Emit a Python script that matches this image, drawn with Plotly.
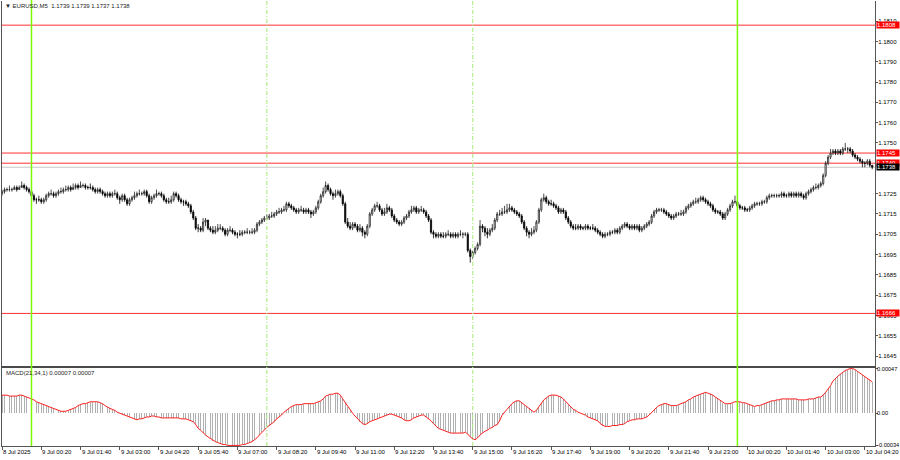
import pandas as pd
import plotly.graph_objects as go

# ---------------- data ----------------
opens = [
1.1725,1.1726,1.1727,1.1727,1.1727,1.1727,1.1728,1.1727,1.1728,1.1729,1.1728,1.1727,
1.1726,1.1724,1.1722,1.1722,1.1722,1.1721,1.1722,1.1724,1.1725,1.1725,1.1724,1.1725,
1.1726,1.1726,1.1727,1.1727,1.1728,1.1727,1.1728,1.1729,1.1728,1.1729,1.1729,1.1728,
1.1728,1.1728,1.1727,1.1726,1.1727,1.1726,1.1725,1.1724,1.1725,1.1724,1.1725,1.1725,
1.1723,1.1722,1.1724,1.1722,1.1720,1.1722,1.1723,1.1724,1.1725,1.1725,1.1725,1.1726,
1.1724,1.1721,1.1723,1.1724,1.1725,1.1725,1.1724,1.1722,1.1721,1.1721,1.1722,1.1725,
1.1724,1.1722,1.1721,1.1721,1.1720,1.1719,1.1716,1.1713,1.1708,1.1708,1.1707,1.1711,
1.1712,1.1708,1.1707,1.1706,1.1707,1.1708,1.1708,1.1707,1.1705,1.1707,1.1707,1.1706,
1.1705,1.1705,1.1705,1.1706,1.1706,1.1706,1.1706,1.1706,1.1707,1.1710,1.1711,1.1712,
1.1713,1.1713,1.1714,1.1714,1.1715,1.1716,1.1716,1.1717,1.1717,1.1720,1.1719,1.1718,
1.1717,1.1716,1.1717,1.1717,1.1716,1.1717,1.1716,1.1715,1.1716,1.1718,1.1721,1.1724,
1.1726,1.1729,1.1727,1.1725,1.1724,1.1725,1.1726,1.1724,1.1720,1.1711,1.1709,1.1708,
1.1710,1.1709,1.1707,1.1708,1.1706,1.1705,1.1709,1.1715,1.1717,1.1719,1.1719,1.1717,
1.1715,1.1716,1.1718,1.1717,1.1714,1.1712,1.1711,1.1710,1.1711,1.1713,1.1714,1.1716,
1.1717,1.1718,1.1716,1.1717,1.1717,1.1716,1.1714,1.1712,1.1706,1.1705,1.1704,1.1705,
1.1704,1.1704,1.1705,1.1705,1.1704,1.1705,1.1704,1.1705,1.1705,1.1705,1.1705,1.1697,
1.1694,1.1696,1.1698,1.1700,1.1709,1.1708,1.1706,1.1705,1.1707,1.1708,1.1712,1.1715,
1.1715,1.1716,1.1716,1.1717,1.1718,1.1717,1.1716,1.1715,1.1714,1.1711,1.1708,1.1706,
1.1705,1.1706,1.1707,1.1711,1.1717,1.1722,1.1723,1.1721,1.1720,1.1720,1.1719,1.1718,
1.1716,1.1717,1.1716,1.1713,1.1711,1.1709,1.1708,1.1708,1.1709,1.1708,1.1708,1.1709,
1.1708,1.1708,1.1708,1.1707,1.1706,1.1705,1.1704,1.1705,1.1705,1.1706,1.1706,1.1707,
1.1706,1.1708,1.1709,1.1710,1.1709,1.1708,1.1709,1.1708,1.1709,1.1707,1.1708,1.1709,
1.1710,1.1711,1.1714,1.1716,1.1717,1.1717,1.1717,1.1716,1.1715,1.1714,1.1713,1.1714,
1.1715,1.1715,1.1715,1.1716,1.1718,1.1719,1.1720,1.1721,1.1721,1.1722,1.1723,1.1722,
1.1721,1.1720,1.1719,1.1717,1.1716,1.1716,1.1715,1.1713,1.1715,1.1717,1.1719,1.1721,
1.1721,1.1719,1.1718,1.1718,1.1717,1.1717,1.1718,1.1719,1.1720,1.1720,1.1720,1.1721,
1.1721,1.1723,1.1724,1.1724,1.1724,1.1724,1.1724,1.1725,1.1724,1.1724,1.1725,1.1724,
1.1725,1.1724,1.1725,1.1724,1.1723,1.1725,1.1726,1.1727,1.1728,1.1728,1.1729,1.1730,
1.1734,1.1740,1.1743,1.1745,1.1746,1.1745,1.1746,1.1745,1.1747,1.1747,1.1747,1.1746,
1.1744,1.1743,1.1742,1.1741,1.1740,1.1740,1.1741,1.1739]

highs = [
1.1727,1.1728,1.1728,1.1729,1.1728,1.1729,1.1729,1.1729,1.1731,1.1730,1.1729,1.1728,
1.1727,1.1725,1.1723,1.1724,1.1723,1.1723,1.1725,1.1726,1.1727,1.1726,1.1726,1.1727,
1.1728,1.1728,1.1729,1.1729,1.1729,1.1730,1.1730,1.1730,1.1731,1.1730,1.1730,1.1729,
1.1730,1.1729,1.1728,1.1728,1.1728,1.1727,1.1726,1.1726,1.1726,1.1726,1.1727,1.1726,
1.1724,1.1725,1.1725,1.1723,1.1723,1.1724,1.1726,1.1726,1.1727,1.1726,1.1727,1.1727,
1.1725,1.1724,1.1725,1.1727,1.1726,1.1726,1.1725,1.1723,1.1723,1.1724,1.1726,1.1726,
1.1725,1.1723,1.1722,1.1722,1.1721,1.1720,1.1717,1.1714,1.1710,1.1709,1.1713,1.1713,
1.1712,1.1709,1.1709,1.1709,1.1710,1.1710,1.1709,1.1708,1.1708,1.1709,1.1708,1.1707,
1.1706,1.1707,1.1707,1.1707,1.1708,1.1707,1.1708,1.1708,1.1711,1.1712,1.1713,1.1714,
1.1715,1.1715,1.1716,1.1716,1.1717,1.1718,1.1718,1.1719,1.1721,1.1721,1.1720,1.1719,
1.1718,1.1718,1.1719,1.1718,1.1718,1.1718,1.1717,1.1717,1.1719,1.1722,1.1725,1.1728,
1.1731,1.1730,1.1728,1.1726,1.1727,1.1727,1.1727,1.1725,1.1721,1.1713,1.1711,1.1711,
1.1711,1.1710,1.1710,1.1709,1.1707,1.1710,1.1716,1.1718,1.1720,1.1721,1.1720,1.1718,
1.1718,1.1720,1.1719,1.1718,1.1715,1.1713,1.1712,1.1712,1.1714,1.1715,1.1717,1.1719,
1.1719,1.1719,1.1718,1.1719,1.1718,1.1717,1.1715,1.1713,1.1707,1.1706,1.1706,1.1706,
1.1706,1.1706,1.1707,1.1706,1.1706,1.1706,1.1706,1.1707,1.1706,1.1706,1.1706,1.1698,
1.1697,1.1699,1.1701,1.1712,1.1710,1.1709,1.1708,1.1708,1.1710,1.1713,1.1716,1.1717,
1.1718,1.1719,1.1720,1.1720,1.1719,1.1718,1.1717,1.1716,1.1715,1.1712,1.1709,1.1707,
1.1708,1.1709,1.1712,1.1718,1.1723,1.1725,1.1724,1.1722,1.1722,1.1721,1.1720,1.1719,
1.1718,1.1718,1.1717,1.1714,1.1712,1.1710,1.1710,1.1710,1.1710,1.1709,1.1710,1.1710,
1.1709,1.1710,1.1709,1.1708,1.1707,1.1706,1.1706,1.1706,1.1707,1.1707,1.1708,1.1708,
1.1709,1.1710,1.1711,1.1711,1.1710,1.1710,1.1710,1.1710,1.1710,1.1709,1.1710,1.1711,
1.1712,1.1715,1.1717,1.1718,1.1718,1.1718,1.1718,1.1717,1.1716,1.1715,1.1715,1.1716,
1.1716,1.1717,1.1717,1.1719,1.1720,1.1721,1.1722,1.1723,1.1723,1.1724,1.1724,1.1723,
1.1722,1.1721,1.1720,1.1718,1.1717,1.1717,1.1716,1.1716,1.1718,1.1720,1.1722,1.1724,
1.1722,1.1720,1.1719,1.1719,1.1718,1.1719,1.1720,1.1721,1.1721,1.1721,1.1722,1.1722,
1.1724,1.1725,1.1725,1.1725,1.1725,1.1725,1.1726,1.1726,1.1725,1.1726,1.1726,1.1726,
1.1726,1.1726,1.1726,1.1725,1.1726,1.1727,1.1728,1.1729,1.1730,1.1730,1.1731,1.1735,
1.1741,1.1744,1.1747,1.1747,1.1747,1.1747,1.1747,1.1748,1.1750,1.1748,1.1748,1.1747,
1.1745,1.1744,1.1743,1.1742,1.1741,1.1742,1.1742,1.1739]

lows = [
1.1724,1.1725,1.1726,1.1726,1.1726,1.1727,1.1726,1.1727,1.1728,1.1727,1.1726,1.1725,
1.1723,1.1721,1.1720,1.1721,1.1720,1.1720,1.1721,1.1723,1.1724,1.1723,1.1723,1.1724,
1.1725,1.1725,1.1726,1.1726,1.1726,1.1727,1.1727,1.1727,1.1728,1.1728,1.1727,1.1727,
1.1727,1.1726,1.1725,1.1725,1.1725,1.1724,1.1723,1.1723,1.1723,1.1723,1.1724,1.1722,
1.1720,1.1721,1.1721,1.1719,1.1719,1.1721,1.1722,1.1723,1.1724,1.1724,1.1724,1.1723,
1.1720,1.1720,1.1722,1.1723,1.1724,1.1723,1.1721,1.1720,1.1720,1.1720,1.1721,1.1723,
1.1721,1.1720,1.1719,1.1719,1.1718,1.1715,1.1712,1.1707,1.1706,1.1706,1.1706,1.1709,
1.1707,1.1706,1.1705,1.1705,1.1706,1.1707,1.1706,1.1704,1.1704,1.1706,1.1705,1.1704,
1.1703,1.1704,1.1704,1.1705,1.1705,1.1705,1.1705,1.1705,1.1706,1.1709,1.1710,1.1711,
1.1712,1.1712,1.1713,1.1713,1.1714,1.1715,1.1715,1.1716,1.1716,1.1718,1.1717,1.1716,
1.1715,1.1715,1.1716,1.1715,1.1715,1.1715,1.1713,1.1714,1.1715,1.1717,1.1720,1.1723,
1.1725,1.1726,1.1724,1.1722,1.1723,1.1724,1.1723,1.1719,1.1710,1.1708,1.1707,1.1707,
1.1708,1.1706,1.1706,1.1704,1.1703,1.1704,1.1708,1.1714,1.1716,1.1718,1.1716,1.1714,
1.1714,1.1715,1.1716,1.1713,1.1711,1.1710,1.1709,1.1709,1.1710,1.1712,1.1713,1.1715,
1.1716,1.1715,1.1715,1.1716,1.1715,1.1713,1.1711,1.1705,1.1703,1.1703,1.1703,1.1703,
1.1703,1.1703,1.1704,1.1703,1.1703,1.1703,1.1703,1.1704,1.1703,1.1704,1.1696,1.1691,
1.1693,1.1695,1.1697,1.1699,1.1706,1.1704,1.1703,1.1704,1.1706,1.1707,1.1711,1.1714,
1.1714,1.1715,1.1715,1.1716,1.1716,1.1715,1.1714,1.1713,1.1710,1.1707,1.1704,1.1703,
1.1704,1.1705,1.1706,1.1710,1.1716,1.1721,1.1720,1.1719,1.1719,1.1718,1.1717,1.1715,
1.1715,1.1715,1.1712,1.1710,1.1708,1.1707,1.1707,1.1707,1.1707,1.1707,1.1707,1.1707,
1.1707,1.1707,1.1706,1.1705,1.1704,1.1703,1.1703,1.1704,1.1704,1.1705,1.1705,1.1705,
1.1705,1.1707,1.1708,1.1708,1.1707,1.1707,1.1707,1.1707,1.1706,1.1706,1.1707,1.1708,
1.1709,1.1710,1.1713,1.1715,1.1716,1.1716,1.1715,1.1714,1.1713,1.1712,1.1712,1.1713,
1.1714,1.1714,1.1714,1.1715,1.1717,1.1718,1.1719,1.1720,1.1720,1.1721,1.1721,1.1720,
1.1719,1.1718,1.1716,1.1715,1.1715,1.1714,1.1712,1.1712,1.1714,1.1716,1.1718,1.1720,
1.1718,1.1717,1.1717,1.1716,1.1716,1.1716,1.1717,1.1718,1.1719,1.1719,1.1719,1.1720,
1.1720,1.1722,1.1723,1.1723,1.1723,1.1723,1.1723,1.1723,1.1723,1.1723,1.1723,1.1723,
1.1723,1.1723,1.1723,1.1722,1.1722,1.1724,1.1725,1.1726,1.1727,1.1727,1.1728,1.1729,
1.1733,1.1739,1.1742,1.1744,1.1744,1.1744,1.1744,1.1744,1.1746,1.1745,1.1745,1.1743,
1.1742,1.1741,1.1740,1.1738,1.1738,1.1739,1.1738,1.1737]

closes = [
1.1726,1.1727,1.1727,1.1727,1.1727,1.1728,1.1727,1.1728,1.1729,1.1728,1.1727,1.1726,
1.1724,1.1722,1.1722,1.1722,1.1721,1.1722,1.1724,1.1725,1.1725,1.1724,1.1725,1.1726,
1.1726,1.1727,1.1727,1.1728,1.1727,1.1728,1.1729,1.1728,1.1729,1.1729,1.1728,1.1728,
1.1728,1.1727,1.1726,1.1727,1.1726,1.1725,1.1724,1.1725,1.1724,1.1725,1.1725,1.1723,
1.1722,1.1724,1.1722,1.1720,1.1722,1.1723,1.1724,1.1725,1.1725,1.1725,1.1726,1.1724,
1.1721,1.1723,1.1724,1.1725,1.1725,1.1724,1.1722,1.1721,1.1721,1.1722,1.1725,1.1724,
1.1722,1.1721,1.1721,1.1720,1.1719,1.1716,1.1713,1.1708,1.1708,1.1707,1.1711,1.1712,
1.1708,1.1707,1.1706,1.1707,1.1708,1.1708,1.1707,1.1705,1.1707,1.1707,1.1706,1.1705,
1.1705,1.1705,1.1706,1.1706,1.1706,1.1706,1.1706,1.1707,1.1710,1.1711,1.1712,1.1713,
1.1713,1.1714,1.1714,1.1715,1.1716,1.1716,1.1717,1.1717,1.1720,1.1719,1.1718,1.1717,
1.1716,1.1717,1.1717,1.1716,1.1717,1.1716,1.1715,1.1716,1.1718,1.1721,1.1724,1.1726,
1.1729,1.1727,1.1725,1.1724,1.1725,1.1726,1.1724,1.1720,1.1711,1.1709,1.1708,1.1710,
1.1709,1.1707,1.1708,1.1706,1.1705,1.1709,1.1715,1.1717,1.1719,1.1719,1.1717,1.1715,
1.1716,1.1718,1.1717,1.1714,1.1712,1.1711,1.1710,1.1711,1.1713,1.1714,1.1716,1.1717,
1.1718,1.1716,1.1717,1.1717,1.1716,1.1714,1.1712,1.1706,1.1705,1.1704,1.1705,1.1704,
1.1704,1.1705,1.1705,1.1704,1.1705,1.1704,1.1705,1.1705,1.1705,1.1705,1.1697,1.1694,
1.1696,1.1698,1.1700,1.1709,1.1708,1.1706,1.1705,1.1707,1.1708,1.1712,1.1715,1.1715,
1.1716,1.1716,1.1717,1.1718,1.1717,1.1716,1.1715,1.1714,1.1711,1.1708,1.1706,1.1705,
1.1706,1.1707,1.1711,1.1717,1.1722,1.1723,1.1721,1.1720,1.1720,1.1719,1.1718,1.1716,
1.1717,1.1716,1.1713,1.1711,1.1709,1.1708,1.1708,1.1709,1.1708,1.1708,1.1709,1.1708,
1.1708,1.1708,1.1707,1.1706,1.1705,1.1704,1.1705,1.1705,1.1706,1.1706,1.1707,1.1706,
1.1708,1.1709,1.1710,1.1709,1.1708,1.1709,1.1708,1.1709,1.1707,1.1708,1.1709,1.1710,
1.1711,1.1714,1.1716,1.1717,1.1717,1.1717,1.1716,1.1715,1.1714,1.1713,1.1714,1.1715,
1.1715,1.1715,1.1716,1.1718,1.1719,1.1720,1.1721,1.1721,1.1722,1.1723,1.1722,1.1721,
1.1720,1.1719,1.1717,1.1716,1.1716,1.1715,1.1713,1.1715,1.1717,1.1719,1.1721,1.1721,
1.1719,1.1718,1.1718,1.1717,1.1717,1.1718,1.1719,1.1720,1.1720,1.1720,1.1721,1.1721,
1.1723,1.1724,1.1724,1.1724,1.1724,1.1724,1.1725,1.1724,1.1724,1.1725,1.1724,1.1725,
1.1724,1.1725,1.1724,1.1723,1.1725,1.1726,1.1727,1.1728,1.1728,1.1729,1.1730,1.1734,
1.1740,1.1743,1.1745,1.1746,1.1745,1.1746,1.1745,1.1747,1.1747,1.1747,1.1746,1.1744,
1.1743,1.1742,1.1741,1.1740,1.1740,1.1741,1.1739,1.1738]

# MACD(21,34,1) main histogram; signal with period 1 coincides with it
macd_main = [
0.00019,0.00019,0.00019,0.00018,0.00018,0.00018,0.00018,0.00019,0.00019,0.00018,0.00017,0.00016,
0.00015,0.00014,0.00012,0.00011,0.00010,0.00009,0.00008,0.00007,0.00006,0.00005,0.00004,0.00003,
0.00002,0.00002,0.00002,0.00003,0.00004,0.00005,0.00006,0.00008,0.00009,0.00010,0.00010,0.00011,
0.00012,0.00012,0.00012,0.00012,0.00011,0.00010,0.00008,0.00006,0.00005,0.00004,0.00003,0.00001,
0.00000,-0.00001,-0.00002,-0.00003,-0.00004,-0.00005,-0.00006,-0.00007,-0.00006,-0.00006,-0.00005,-0.00004,
-0.00004,-0.00003,-0.00003,-0.00004,-0.00004,-0.00005,-0.00005,-0.00005,-0.00005,-0.00005,-0.00005,-0.00005,
-0.00005,-0.00006,-0.00006,-0.00006,-0.00007,-0.00008,-0.00009,-0.00012,-0.00016,-0.00018,-0.00021,-0.00023,
-0.00025,-0.00027,-0.00029,-0.00030,-0.00031,-0.00032,-0.00033,-0.00033,-0.00034,-0.00034,-0.00034,-0.00034,
-0.00034,-0.00034,-0.00033,-0.00033,-0.00032,-0.00031,-0.00030,-0.00028,-0.00026,-0.00023,-0.00020,-0.00017,
-0.00015,-0.00013,-0.00011,-0.00009,-0.00006,-0.00004,-0.00002,0.00001,0.00003,0.00005,0.00007,0.00008,
0.00009,0.00009,0.00009,0.00010,0.00010,0.00010,0.00010,0.00010,0.00011,0.00012,0.00013,0.00015,
0.00018,0.00019,0.00020,0.00020,0.00021,0.00021,0.00019,0.00015,0.00011,0.00007,0.00003,0.00000,
-0.00003,-0.00006,-0.00009,-0.00011,-0.00012,-0.00011,-0.00009,-0.00008,-0.00007,-0.00006,-0.00005,-0.00004,
-0.00003,-0.00002,-0.00001,-0.00001,-0.00002,-0.00003,-0.00004,-0.00005,-0.00007,-0.00008,-0.00008,-0.00007,
-0.00005,-0.00004,-0.00003,-0.00002,-0.00002,-0.00004,-0.00006,-0.00008,-0.00011,-0.00014,-0.00016,-0.00017,
-0.00018,-0.00019,-0.00020,-0.00021,-0.00021,-0.00021,-0.00021,-0.00021,-0.00021,-0.00020,-0.00022,-0.00025,
-0.00027,-0.00028,-0.00026,-0.00023,-0.00021,-0.00019,-0.00018,-0.00016,-0.00015,-0.00013,-0.00012,-0.00008,
-0.00002,0.00001,0.00005,0.00008,0.00010,0.00012,0.00013,0.00013,0.00011,0.00009,0.00007,0.00005,
0.00003,0.00001,0.00003,0.00007,0.00011,0.00014,0.00016,0.00018,0.00019,0.00019,0.00019,0.00018,
0.00017,0.00015,0.00012,0.00009,0.00006,0.00004,0.00003,0.00001,0.00000,-0.00001,-0.00002,-0.00004,
-0.00005,-0.00006,-0.00007,-0.00008,-0.00011,-0.00013,-0.00014,-0.00014,-0.00014,-0.00013,-0.00013,-0.00013,
-0.00012,-0.00012,-0.00011,-0.00009,-0.00008,-0.00007,-0.00007,-0.00006,-0.00006,-0.00006,-0.00005,-0.00004,
-0.00002,0.00001,0.00004,0.00006,0.00008,0.00009,0.00010,0.00010,0.00009,0.00008,0.00008,0.00008,
0.00009,0.00010,0.00011,0.00012,0.00014,0.00015,0.00017,0.00018,0.00019,0.00020,0.00021,0.00022,
0.00021,0.00020,0.00019,0.00017,0.00015,0.00013,0.00011,0.00010,0.00010,0.00010,0.00011,0.00012,
0.00012,0.00012,0.00011,0.00011,0.00010,0.00009,0.00008,0.00007,0.00008,0.00008,0.00009,0.00010,
0.00011,0.00012,0.00013,0.00013,0.00014,0.00014,0.00015,0.00015,0.00015,0.00015,0.00015,0.00015,
0.00015,0.00014,0.00014,0.00014,0.00014,0.00015,0.00015,0.00015,0.00016,0.00017,0.00017,0.00019,
0.00022,0.00025,0.00029,0.00034,0.00037,0.00039,0.00041,0.00043,0.00045,0.00046,0.00047,0.00047,
0.00046,0.00044,0.00042,0.00040,0.00038,0.00036,0.00035,0.00033]
macd_signal = macd_main  # signal SMA(1) of the main line

first_bar = "2025-07-08 23:00"
times = pd.date_range(first_bar, periods=len(closes), freq="5min")

view_range = ["2025-07-08 22:59:50", "2025-07-10 04:40:40"]
price_range = [1.16401, 1.18199]
macd_range = [-0.000346, 0.000476]

price_ticks = [1.1810, 1.1800, 1.1790, 1.1780, 1.1770, 1.1760, 1.1750,
               1.1725, 1.1715, 1.1705, 1.1695, 1.1685, 1.1675, 1.1665, 1.1655, 1.1645]
macd_ticks = [0.00047, 0.0, -0.00034]
macd_tick_text = ["0.00047", "0.00", "-0.00034"]

time_ticks = ["2025-07-08 23:00", "2025-07-09 00:20", "2025-07-09 01:40", "2025-07-09 03:00",
              "2025-07-09 04:20", "2025-07-09 05:40", "2025-07-09 07:00", "2025-07-09 08:20",
              "2025-07-09 09:40", "2025-07-09 11:00", "2025-07-09 12:20", "2025-07-09 13:40",
              "2025-07-09 15:00", "2025-07-09 16:20", "2025-07-09 17:40", "2025-07-09 19:00",
              "2025-07-09 20:20", "2025-07-09 21:40", "2025-07-09 23:00", "2025-07-10 00:20",
              "2025-07-10 01:40", "2025-07-10 03:00", "2025-07-10 04:20"]
time_text = ["8 Jul 2025", "9 Jul 00:20", "9 Jul 01:40", "9 Jul 03:00", "9 Jul 04:20",
             "9 Jul 05:40", "9 Jul 07:00", "9 Jul 08:20", "9 Jul 09:40", "9 Jul 11:00",
             "9 Jul 12:20", "9 Jul 13:40", "9 Jul 15:00", "9 Jul 16:20", "9 Jul 17:40",
             "9 Jul 19:00", "9 Jul 20:20", "9 Jul 21:40", "9 Jul 23:00", "10 Jul 00:20",
             "10 Jul 01:40", "10 Jul 03:00", "10 Jul 04:20"]

day_lines = ["2025-07-09 00:00", "2025-07-10 00:00"]
session_lines = ["2025-07-09 08:00", "2025-07-09 15:00"]
red_levels = [1.1808, 1.1745, 1.1740, 1.1666]
bid_price = 1.1738

title_text = "▼ EURUSD,M5  1.1739 1.1739 1.1737 1.1738"
macd_text = "MACD(21,34,1) 0.00007 0.00007"

# ---------------- layout constants ----------------
FONT = "Liberation Sans, Arial, sans-serif"
FS = 6
X_DOM = [2 / 900, 875 / 900]
Y_MAIN = [1 - 366 / 460, 1 - 1 / 460]
Y_MACD = [1 - 446 / 460, 1 - 368 / 460]
AXC = "#555555"

fig = go.Figure()
fig.add_trace(go.Candlestick(
    x=times, open=opens, high=highs, low=lows, close=closes,
    xaxis="x", yaxis="y",
    increasing=dict(line=dict(color="#202020", width=0.8), fillcolor="#ffffff"),
    decreasing=dict(line=dict(color="#000000", width=0.8), fillcolor="#000000"),
    whiskerwidth=0, showlegend=False, hoverinfo="skip"))
fig.add_trace(go.Bar(
    x=times, y=macd_main, xaxis="x2", yaxis="y2",
    marker=dict(color="#b0b0b0", line=dict(width=0)),
    width=110000, showlegend=False, hoverinfo="skip"))
fig.add_trace(go.Scatter(
    x=times, y=macd_signal, xaxis="x2", yaxis="y2", mode="lines",
    line=dict(color="#ff2020", width=1), showlegend=False, hoverinfo="skip"))

shapes = []
for t in day_lines:
    shapes.append(dict(type="line", xref="x", yref="paper", x0=t, x1=t,
                       y0=Y_MACD[0], y1=1, layer="above",
                       line=dict(color="#7CFC00", width=1.5)))
for t in session_lines:
    shapes.append(dict(type="line", xref="x", yref="paper", x0=t, x1=t,
                       y0=Y_MACD[0], y1=1, layer="above",
                       line=dict(color="#b4ee8c", width=1.2, dash="4px,2px,1px,2px")))
shapes.append(dict(type="line", xref="paper", yref="y", x0=X_DOM[0], x1=X_DOM[1],
                   y0=bid_price, y1=bid_price, layer="below",
                   line=dict(color="#c8c8c8", width=1)))
for lv in red_levels:
    shapes.append(dict(type="line", xref="paper", yref="y", x0=X_DOM[0], x1=X_DOM[1],
                       y0=lv, y1=lv, layer="below",
                       line=dict(color="#ff3030", width=1)))

annotations = []
for t, txt in zip(time_ticks, time_text):
    annotations.append(dict(x=t, xref="x2", y=Y_MACD[0] - 1 / 460, yref="paper",
                            text=txt, showarrow=False, xanchor="left", yanchor="top",
                            xshift=-1, font=dict(family=FONT, size=FS, color="black")))
for lv in red_levels:
    annotations.append(dict(x=876 / 900, xref="paper", y=lv, yref="y",
                            text=f"{lv:.4f}", showarrow=False, xanchor="left",
                            yanchor="middle", bgcolor="#ff0000", borderpad=0,
                            width=22, align="left",
                            font=dict(family=FONT, size=FS, color="white")))
annotations.append(dict(x=876 / 900, xref="paper", y=bid_price, yref="y",
                        text=f"{bid_price:.4f}", showarrow=False, xanchor="left",
                        yanchor="middle", bgcolor="#000000", borderpad=0,
                        width=22, align="left",
                        font=dict(family=FONT, size=FS, color="white")))
annotations.append(dict(x=3 / 900, xref="paper", y=1 - 6 / 460, yref="paper",
                        text=title_text, showarrow=False, xanchor="left", yanchor="middle",
                        font=dict(family=FONT, size=FS, color="#222222")))
annotations.append(dict(x=4 / 900, xref="paper", y=1 - 373 / 460, yref="paper",
                        text=macd_text, showarrow=False, xanchor="left", yanchor="middle",
                        font=dict(family=FONT, size=FS, color="#222222")))

fig.update_layout(
    width=900, height=460, margin=dict(l=0, r=0, t=0, b=0, autoexpand=False),
    paper_bgcolor="white", plot_bgcolor="white", showlegend=False,
    bargap=0,
    xaxis=dict(domain=X_DOM, anchor="y", range=view_range, type="date", automargin=False,
               rangeslider=dict(visible=False), showticklabels=False, ticks="",
               showgrid=False, zeroline=False, showline=True, linecolor="#4a4a4a",
               linewidth=2),
    yaxis=dict(domain=Y_MAIN, anchor="x", range=price_range, side="right", automargin=False,
               tickvals=price_ticks, ticktext=[f"{v:.4f}" for v in price_ticks],
               ticks="outside", ticklen=2, tickcolor=AXC, showgrid=False, zeroline=False,
               showline=True, mirror=True, linecolor=AXC, linewidth=1,
               ticklabelstandoff=-1,
               tickfont=dict(family=FONT, size=FS, color="black")),
    xaxis2=dict(domain=X_DOM, anchor="y2", matches="x", type="date", automargin=False,
                tickvals=time_ticks, ticks="outside", ticklen=3, tickcolor=AXC,
                showticklabels=False, showgrid=False, zeroline=False,
                showline=True, linecolor=AXC, linewidth=1),
    yaxis2=dict(domain=Y_MACD, anchor="x2", range=macd_range, side="right", automargin=False,
                tickvals=macd_ticks, ticktext=macd_tick_text,
                ticks="outside", ticklen=2, tickcolor=AXC, showgrid=False, zeroline=False,
                showline=True, mirror=True, linecolor=AXC, linewidth=1,
                ticklabelstandoff=-2,
                tickfont=dict(family=FONT, size=5.6, color="black")),
    shapes=shapes, annotations=annotations,
)

page_reset = ("document.documentElement.style.margin='0';"
              "document.body.style.margin='0';document.body.style.padding='0';"
              "document.body.style.overflow='hidden';")
fig.write_html("out.html", post_script=page_reset,
               config={"displayModeBar": False, "staticPlot": True})
